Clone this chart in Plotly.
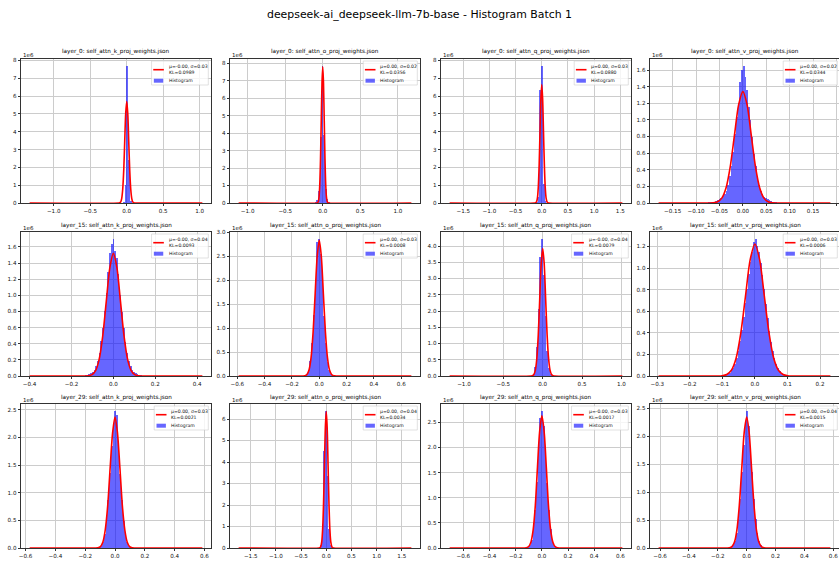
import numpy as np
import plotly.graph_objects as go

TITLE = "deepseek-ai_deepseek-llm-7b-base - Histogram Batch 1"

PANEL_TITLES = [
    "layer_0: self_attn_k_proj_weights.json", "layer_0: self_attn_o_proj_weights.json",
    "layer_0: self_attn_q_proj_weights.json", "layer_0: self_attn_v_proj_weights.json",
    "layer_15: self_attn_k_proj_weights.json", "layer_15: self_attn_o_proj_weights.json",
    "layer_15: self_attn_q_proj_weights.json", "layer_15: self_attn_v_proj_weights.json",
    "layer_29: self_attn_k_proj_weights.json", "layer_29: self_attn_o_proj_weights.json",
    "layer_29: self_attn_q_proj_weights.json", "layer_29: self_attn_v_proj_weights.json",
]
FIT_LABELS = [
    "μ=-0.00, σ=0.03", "μ=0.00, σ=0.02", "μ=0.00, σ=0.03", "μ=0.00, σ=0.02",
    "μ=-0.00, σ=0.04", "μ=0.00, σ=0.03", "μ=-0.00, σ=0.04", "μ=0.00, σ=0.03",
    "μ=0.00, σ=0.03", "μ=0.00, σ=0.04", "μ=-0.00, σ=0.03", "μ=0.00, σ=0.04",
]
KL_LABELS = [
    "KL=0.0989", "KL=0.0356", "KL=0.0880", "KL=0.0344",
    "KL=0.0093", "KL=0.0008", "KL=0.0079", "KL=0.0006",
    "KL=0.0021", "KL=0.0034", "KL=0.0017", "KL=0.0015",
]

# weight value extent of each tensor (histogram range), 100 bins each
DATA_MIN = [-1.33, -1.12, -1.76, -0.18, -0.40, -0.59, -1.182, -0.296, -0.573, -1.74, -0.705, -0.61]
DATA_MAX = [1.036, 1.18, 1.54, 0.187, 0.425, 0.674, 1.012, 0.232, 0.586, 1.69, 0.615, 0.58]
N_BINS = 100

# histogram counts (x1e6) of the non-empty bins; ZERO_POS = position of the bin holding 0
COUNTS_L0_K = [0.02, 0.08, 1.0, 7.7, 2.4, 0.1, 0.02]
ZERO_POS_L0_K = 3
COUNTS_L0_O = [0.03, 0.15, 0.7, 3.8, 7.85, 3.9, 0.8, 0.25, 0.05]
ZERO_POS_L0_O = 4
COUNTS_L0_Q = [0.05, 0.35, 6.35, 7.7, 1.05, 0.1, 0.02]
ZERO_POS_L0_Q = 3
COUNTS_L0_V = [0.001, 0.002, 0.003, 0.004, 0.005, 0.007, 0.01, 0.013, 0.018, 0.025, 0.035, 0.045,
               0.06, 0.08, 0.11, 0.15, 0.22, 0.32, 0.45, 0.61, 0.83, 1.03, 1.20, 1.45, 1.60,
               1.65,
               1.52, 1.36, 1.16, 1.00, 0.80, 0.59, 0.44, 0.31, 0.215, 0.15, 0.105, 0.078, 0.058,
               0.044, 0.034, 0.024, 0.017, 0.012, 0.009, 0.006, 0.005, 0.004, 0.003, 0.002, 0.001]
ZERO_POS_L0_V = 25
COUNTS_L15_K = [0.001, 0.002, 0.003, 0.005, 0.008, 0.013, 0.02, 0.032, 0.05, 0.08, 0.12, 0.19,
                0.29, 0.43, 0.60, 0.80, 1.03, 1.29, 1.52, 1.64,
                1.70,
                1.55, 1.46, 1.27, 1.01, 0.79, 0.59, 0.42, 0.29, 0.19, 0.12, 0.08, 0.05, 0.032,
                0.02, 0.013, 0.008, 0.005, 0.003, 0.002, 0.001]
ZERO_POS_L15_K = 20
COUNTS_L15_O = [0.01, 0.04, 0.12, 0.31, 0.69, 1.28, 1.99, 2.80, 2.86, 2.55, 1.95, 1.26, 0.68,
                0.30, 0.115, 0.037, 0.01]
ZERO_POS_L15_O = 8
COUNTS_L15_Q = [0.01, 0.06, 0.27, 0.88, 2.05, 3.65, 4.22, 3.10, 1.85, 0.78, 0.24, 0.05, 0.01]
ZERO_POS_L15_Q = 6
COUNTS_L15_V = [0.002, 0.0035, 0.006, 0.011, 0.019, 0.031, 0.05, 0.076, 0.115, 0.167, 0.235,
                0.32, 0.425, 0.545, 0.675, 0.81, 0.94, 1.055, 1.15, 1.24,
                1.27,
                1.20, 1.145, 1.05, 0.935, 0.805, 0.67, 0.54, 0.42, 0.318, 0.232, 0.165, 0.113,
                0.075, 0.048, 0.03, 0.018, 0.01, 0.0055, 0.003, 0.0015]
ZERO_POS_L15_V = 20
COUNTS_L29_K = [0.005, 0.015, 0.044, 0.112, 0.25, 0.50, 0.875, 1.35, 1.85, 2.25, 2.48, 2.41,
                1.84, 1.34, 0.87, 0.49, 0.25, 0.11, 0.043, 0.015, 0.005]
ZERO_POS_L29_K = 10
COUNTS_L29_O = [0.02, 0.15, 1.1, 4.5, 6.38, 3.35, 0.9, 0.12, 0.02]
ZERO_POS_L29_O = 4
COUNTS_L29_Q = [0.005, 0.019, 0.06, 0.163, 0.38, 0.765, 1.31, 1.93, 2.58, 2.73, 2.43, 1.92,
                1.30, 0.76, 0.38, 0.16, 0.06, 0.019, 0.005]
ZERO_POS_L29_Q = 9
COUNTS_L29_V = [0.005, 0.017, 0.047, 0.118, 0.261, 0.51, 0.883, 1.353, 1.834, 2.22, 2.45, 2.18,
                1.83, 1.35, 0.88, 0.51, 0.26, 0.118, 0.047, 0.017, 0.005]
ZERO_POS_L29_V = 10

# fitted normal curves (x1e6)
CURVE_X_L0_K = [-1.33, -0.11, -0.096, -0.0825, -0.069, -0.055, -0.041, -0.0275, -0.014, 0.0,
                0.014, 0.0275, 0.041, 0.055, 0.069, 0.0825, 0.096, 0.11, 1.036]
CURVE_Y_L0_K = [0, 0.002, 0.013, 0.063, 0.25, 0.77, 1.85, 3.46, 5.03, 5.7,
                5.03, 3.46, 1.85, 0.77, 0.25, 0.063, 0.013, 0.002, 0]
CURVE_X_L0_O = [-1.12, -0.079, -0.069, -0.059, -0.0495, -0.0396, -0.0297, -0.0198, -0.0099, 0.0,
                0.0099, 0.0198, 0.0297, 0.0396, 0.0495, 0.059, 0.069, 0.079, 1.18]
CURVE_Y_L0_O = [0, 0.002, 0.017, 0.087, 0.34, 1.06, 2.53, 4.73, 6.88, 7.8,
                6.88, 4.73, 2.53, 1.06, 0.34, 0.087, 0.017, 0.002, 0]
CURVE_X_L0_Q = [-1.76, -0.132, -0.1155, -0.099, -0.0825, -0.066, -0.0495, -0.033, -0.0165, 0.0,
                0.0165, 0.033, 0.0495, 0.066, 0.0825, 0.099, 0.1155, 0.132, 1.54]
CURVE_Y_L0_Q = [0, 0.002, 0.015, 0.074, 0.29, 0.90, 2.16, 4.03, 5.87, 6.65,
                5.87, 4.03, 2.16, 0.90, 0.29, 0.074, 0.015, 0.002, 0]
CURVE_X_L0_V = [-0.18, -0.072, -0.063, -0.054, -0.045, -0.036, -0.027, -0.018, -0.009, 0.0,
                0.009, 0.018, 0.027, 0.036, 0.045, 0.054, 0.063, 0.072, 0.187]
CURVE_Y_L0_V = [0, 0.0004, 0.003, 0.015, 0.059, 0.181, 0.435, 0.813, 1.183, 1.34,
                1.183, 0.813, 0.435, 0.181, 0.059, 0.015, 0.003, 0.0004, 0]
CURVE_X_L15_K = [-0.40, -0.136, -0.119, -0.102, -0.085, -0.068, -0.051, -0.034, -0.017, 0.0,
                 0.017, 0.034, 0.051, 0.068, 0.085, 0.102, 0.119, 0.136, 0.425]
CURVE_Y_L15_K = [0, 0.0005, 0.0033, 0.017, 0.067, 0.206, 0.494, 0.922, 1.341, 1.52,
                 1.341, 0.922, 0.494, 0.206, 0.067, 0.017, 0.0033, 0.0005, 0]
CURVE_X_L15_O = [-0.59, -0.12, -0.105, -0.09, -0.075, -0.06, -0.045, -0.03, -0.015, 0.0,
                 0.015, 0.03, 0.045, 0.06, 0.075, 0.09, 0.105, 0.12, 0.674]
CURVE_Y_L15_O = [0, 0.001, 0.006, 0.031, 0.124, 0.383, 0.919, 1.716, 2.497, 2.83,
                 2.497, 1.716, 0.919, 0.383, 0.124, 0.031, 0.006, 0.001, 0]
CURVE_X_L15_Q = [-1.182, -0.15, -0.131, -0.1125, -0.094, -0.075, -0.056, -0.0375, -0.019, 0.0,
                 0.019, 0.0375, 0.056, 0.075, 0.094, 0.1125, 0.131, 0.15, 1.012]
CURVE_Y_L15_Q = [0, 0.001, 0.009, 0.044, 0.172, 0.53, 1.273, 2.377, 3.459, 3.92,
                 3.459, 2.377, 1.273, 0.53, 0.172, 0.044, 0.009, 0.001, 0]
CURVE_X_L15_V = [-0.296, -0.1156, -0.101, -0.0867, -0.0723, -0.0578, -0.0434, -0.0289, -0.0145, 0.0,
                 0.0145, 0.0289, 0.0434, 0.0578, 0.0723, 0.0867, 0.101, 0.1156, 0.232]
CURVE_Y_L15_V = [0, 0.0004, 0.0027, 0.0136, 0.0536, 0.165, 0.397, 0.741, 1.078, 1.222,
                 1.078, 0.741, 0.397, 0.165, 0.0536, 0.0136, 0.0027, 0.0004, 0]
CURVE_X_L29_K = [-0.573, -0.131, -0.115, -0.098, -0.082, -0.066, -0.049, -0.033, -0.016, 0.0,
                 0.016, 0.033, 0.049, 0.066, 0.082, 0.098, 0.115, 0.131, 0.586]
CURVE_Y_L29_K = [0, 0.0008, 0.005, 0.026, 0.104, 0.321, 0.77, 1.437, 2.09, 2.37,
                 2.09, 1.437, 0.77, 0.321, 0.104, 0.026, 0.005, 0.0008, 0]
CURVE_X_L29_O = [-1.74, -0.145, -0.127, -0.109, -0.09, -0.072, -0.054, -0.036, -0.018, 0.0,
                 0.018, 0.036, 0.054, 0.072, 0.09, 0.109, 0.127, 0.145, 1.69]
CURVE_Y_L29_O = [0, 0.002, 0.014, 0.07, 0.28, 0.86, 2.06, 3.85, 5.6, 6.35,
                 5.6, 3.85, 2.06, 0.86, 0.28, 0.07, 0.014, 0.002, 0]
CURVE_X_L29_Q = [-0.705, -0.134, -0.118, -0.101, -0.084, -0.067, -0.05, -0.034, -0.017, 0.0,
                 0.017, 0.034, 0.05, 0.067, 0.084, 0.101, 0.118, 0.134, 0.615]
CURVE_Y_L29_Q = [0, 0.0008, 0.006, 0.029, 0.116, 0.356, 0.854, 1.595, 2.321, 2.63,
                 2.321, 1.595, 0.854, 0.356, 0.116, 0.029, 0.006, 0.0008, 0]
CURVE_X_L29_V = [-0.61, -0.136, -0.119, -0.102, -0.085, -0.068, -0.051, -0.034, -0.017, 0.0,
                 0.017, 0.034, 0.051, 0.068, 0.085, 0.102, 0.119, 0.136, 0.58]
CURVE_Y_L29_V = [0, 0.0007, 0.005, 0.026, 0.103, 0.317, 0.76, 1.419, 2.065, 2.34,
                 2.065, 1.419, 0.76, 0.317, 0.103, 0.026, 0.005, 0.0007, 0]

X_DTICK = [0.5, 0.5, 0.5, 0.05, 0.2, 0.2, 0.5, 0.1, 0.2, 0.5, 0.2, 0.2]
X_FMT = [".1f", ".1f", ".1f", ".2f", ".1f", ".1f", ".1f", ".1f", ".1f", ".1f", ".1f", ".1f"]
Y_DTICK = [1, 1, 1, 0.2, 0.2, 0.5, 0.5, 0.2, 0.5, 1, 0.5, 0.5]
Y_FMT = [".0f", ".0f", ".0f", ".1f", ".1f", ".1f", ".1f", ".1f", ".1f", ".0f", ".1f", ".1f"]

COUNTS = [COUNTS_L0_K, COUNTS_L0_O, COUNTS_L0_Q, COUNTS_L0_V,
          COUNTS_L15_K, COUNTS_L15_O, COUNTS_L15_Q, COUNTS_L15_V,
          COUNTS_L29_K, COUNTS_L29_O, COUNTS_L29_Q, COUNTS_L29_V]
ZERO_POS = [ZERO_POS_L0_K, ZERO_POS_L0_O, ZERO_POS_L0_Q, ZERO_POS_L0_V,
            ZERO_POS_L15_K, ZERO_POS_L15_O, ZERO_POS_L15_Q, ZERO_POS_L15_V,
            ZERO_POS_L29_K, ZERO_POS_L29_O, ZERO_POS_L29_Q, ZERO_POS_L29_V]
CURVES_X = [CURVE_X_L0_K, CURVE_X_L0_O, CURVE_X_L0_Q, CURVE_X_L0_V,
            CURVE_X_L15_K, CURVE_X_L15_O, CURVE_X_L15_Q, CURVE_X_L15_V,
            CURVE_X_L29_K, CURVE_X_L29_O, CURVE_X_L29_Q, CURVE_X_L29_V]
CURVES_Y = [CURVE_Y_L0_K, CURVE_Y_L0_O, CURVE_Y_L0_Q, CURVE_Y_L0_V,
            CURVE_Y_L15_K, CURVE_Y_L15_O, CURVE_Y_L15_Q, CURVE_Y_L15_V,
            CURVE_Y_L29_K, CURVE_Y_L29_O, CURVE_Y_L29_Q, CURVE_Y_L29_V]

# ---------------- layout (pixels) ----------------
W, H = 839, 561
COL_LEFT = [21, 230, 441, 650]
ROW_TOP = [59, 232, 404]
PW, PH = 190, 144
FONT = "DejaVu Sans"
BLUE = "rgba(0,0,255,0.6)"


def px(x):
    return x / W


def py(y):
    return 1 - y / H


fig = go.Figure()
layout = {}
shapes = []
annotations = []

for i in range(12):
    r, c = divmod(i, 4)
    left, top = COL_LEFT[c], ROW_TOP[r]
    right = left + PW
    bottom = top + PH
    n = i + 1
    xa = "x" if n == 1 else f"x{n}"
    ya = "y" if n == 1 else f"y{n}"

    lo, hi = DATA_MIN[i], DATA_MAX[i]
    edges = np.linspace(lo, hi, N_BINS + 1)
    w = edges[1] - edges[0]
    zb = int(np.floor((0 - lo) / w))
    start = zb - ZERO_POS[i]
    cnt = np.array(COUNTS[i])
    centers = (edges[start:start + len(cnt)] + edges[start + 1:start + 1 + len(cnt)]) / 2

    fig.add_trace(go.Bar(x=centers, y=cnt, width=w, marker=dict(color=BLUE, line=dict(width=0)),
                         xaxis=xa, yaxis=ya, showlegend=False))
    fig.add_trace(go.Scatter(x=CURVES_X[i], y=CURVES_Y[i], mode="lines",
                             line=dict(color="red", width=1.6, shape="spline", smoothing=0.8),
                             xaxis=xa, yaxis=ya, showlegend=False))

    span = hi - lo
    ymax = 1.05 * max(cnt.max(), max(CURVES_Y[i]))
    common = dict(showline=True, mirror=True, linecolor="#333", linewidth=0.8,
                  showgrid=True, gridcolor="#cccccc", gridwidth=0.7, zeroline=False,
                  ticks="outside", ticklen=2.5, tickwidth=0.7, tickcolor="#333",
                  tickfont=dict(family=FONT, size=5.6, color="#111"), automargin=False)
    layout["xaxis" if n == 1 else f"xaxis{n}"] = dict(
        domain=[px(left), min(1.0, px(right))], anchor=ya,
        range=[lo - 0.05 * span, hi + 0.05 * span], tick0=0, dtick=X_DTICK[i],
        tickformat=X_FMT[i], **common)
    layout["yaxis" if n == 1 else f"yaxis{n}"] = dict(
        domain=[py(bottom), py(top)], anchor=xa,
        range=[0, ymax], tick0=0, dtick=Y_DTICK[i], tickformat=Y_FMT[i], **common)

    # subplot title and offset text
    annotations.append(dict(x=px((left + right) / 2), y=py(top - 7), xref="paper", yref="paper",
                            text=PANEL_TITLES[i], showarrow=False, xanchor="center", yanchor="middle",
                            font=dict(family=FONT, size=5.7, color="#000")))
    annotations.append(dict(x=px(left), y=py(top - 4), xref="paper", yref="paper",
                            text="1e6", showarrow=False, xanchor="left", yanchor="middle",
                            font=dict(family=FONT, size=5.5, color="#111")))

    # legend box
    bw = 15 + 2.65 * len(FIT_LABELS[i]) + 2
    L = right - 2.7 - bw
    T = top + 2
    shapes.append(dict(type="rect", xref="paper", yref="paper",
                       x0=px(L), x1=px(L + bw), y0=py(T + 24), y1=py(T),
                       fillcolor="rgba(255,255,255,0.8)", line=dict(color="#cccccc", width=0.6)))
    shapes.append(dict(type="line", xref="paper", yref="paper",
                       x0=px(L + 1.7), x1=px(L + 12.3), y0=py(T + 8.7), y1=py(T + 8.7),
                       line=dict(color="red", width=1.6)))
    shapes.append(dict(type="rect", xref="paper", yref="paper",
                       x0=px(L + 2.3), x1=px(L + 11.7), y0=py(T + 21.7), y1=py(T + 17.7),
                       fillcolor=BLUE, line=dict(width=0)))
    for txt, yy in ((FIT_LABELS[i], T + 5.2), (KL_LABELS[i], T + 11.6), ("Histogram", T + 19.7)):
        annotations.append(dict(x=px(L + 15), y=py(yy), xref="paper", yref="paper", text=txt,
                                showarrow=False, xanchor="left", yanchor="middle",
                                font=dict(family=FONT, size=4.6, color="#111")))

annotations.append(dict(x=0.5, y=py(15), xref="paper", yref="paper", text=TITLE, showarrow=False,
                        xanchor="center", yanchor="middle",
                        font=dict(family=FONT, size=10.9, color="#000")))

fig.update_layout(width=W, height=H, margin=dict(l=0, r=0, t=0, b=0),
                  paper_bgcolor="white", plot_bgcolor="white", bargap=0,
                  shapes=shapes, annotations=annotations, showlegend=False, **layout)

fig.write_html("out.html")
